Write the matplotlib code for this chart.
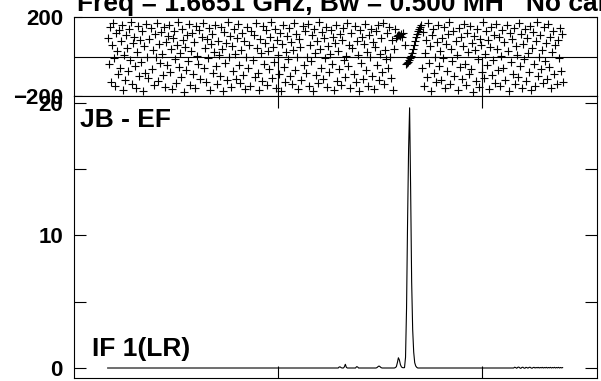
import matplotlib
matplotlib.use('Agg')
import matplotlib.pyplot as plt
from matplotlib.ticker import FixedLocator

# ---------------- data ----------------
channels = list(range(33, 480))

phase = [
    95, -40, 150, -130, 60, 170, -10, -150, 120, 30, -90, 135, -60, 80, 160, -170, 10, -120, 110, 45,
    -75, 140, -20, 175, -140, 70, 100, -50, -160, 25, 155, -100, 85, -30, 130, -175, 55, -85, 165, 0,
    -110, 90, 145, -65, 35, -145, 115, -5, 170, -125, 65, -35, 125, 15, -95, 150, -155, 75, -45, 105,
    160, -80, 40, -165, 95, 130, -15, -135, 60, 175, -55, 20, -105, 140, 85, -180, 50, -70, 110, -25,
    165, -145, 30, 120, -90, 75, -160, 155, 5, -40, 135, -115, 100, 170, -60, 45, -130, 90, -10, 145,
    -170, 65, 115, -85, 25, 160, -50, -140, 80, 10, -100, 150, 40, -175, 125, -35, 70, -120, 175, -5,
    105, -155, 55, -75, 140, 15, -115, 95, 165, -45, -135, 35, 120, -95, 80, -165, 0, 150, -60, 60,
    -150, 130, -20, 110, -105, 170, 45, -85, -170, 90, 20, -125, 155, -40, 70, 135, -145, 30, -65, 100,
    175, -110, 50, -30, 140, -160, 85, 10, -90, 120, -175, 65, 160, -55, -130, 25, 105, -15, 145, -100,
    75, -140, 35, 170, -70, 115, -5, -165, 90, 50, -120, 155, -45, 130, -85, 0, 165, -150, 60, -25,
    110, -175, 140, 20, -95, 80, -135, 175, 40, -60, 125, -115, 95, -10, 150, -155, 55, -80, 15, 135,
    -40, 100, -170, 70, 160, -125, 30, -65, 115, -145, 85, 145, -20, -105, 5, 170, -50, 60, -160, 120,
    45, -90, 155, -130, 80, 10, -175, 135, -35, 100, -115, 65, 165, -70, 25, -150, 110, -5, 140, -100,
    75, -165, 50, 130, -45, 160, -120, 15, 95, -80, 170, -140, 35, -15, 120, -60, 150, 0, -110, 85,
    -170, 40, 140,
    # coherent region around the line (channels 316-340)
    95, 105, 110, 108, 102, 115, 98, 120, 60, -40, -35, -30, -20, -10, 5, 20, 40, 60, 80, 100,
    115, 130, 140, 150, 160,
    # channels 341-479
    -60, 125, -150, 20, 85, -105, 170, -35, 55, -175, 110, 140, -85, 0, -130, 75, 160, -50, 30, -120,
    95, -10, 150, -160, 65, -75, 115, 175, -140, 40, -25, 130, -100, 80, 10, -170, 145, -55, 100, -115,
    55, 165, -40, -145, 120, 25, -90, 155, -65, 70, -180, 105, 35, -125, 140, -15, -155, 90, 60, -80,
    175, -110, 15, 130, -45, 85, -165, 50, 150, -95, -20, 110, -135, 165, 40, -70, 100, -150, 5, 135,
    -60, 75, -120, 160, 30, -175, 120, -30, 90, -90, 145, -140, 55, 10, -105, 170, -50, 115, -160, 65,
    -15, 140, -125, 95, 20, -80, 155, -170, 45, 125, -40, -150, 80, 175, -100, 0, 110, -65, 35, -135,
    150, -25, 70, -115, 165, -55, 100, -160, 25, 130, -90, 60, -140, 85, -10, 145, -75, 115, -130,
]

amp = (
    [0.0] * 227                                             # ch 33-259
    + [0.08, 0.08, 0.02, 0.0, 0.0, 0.08, 0.28, 0.05]        # ch 260-267
    + [0.0] * 9                                             # ch 268-276
    + [0.1, 0.08]                                           # ch 277-278
    + [0.0] * 18                                            # ch 279-296
    + [0.03, 0.1, 0.15, 0.1, 0.03]                          # ch 297-301
    + [0.0] * 13                                            # ch 302-314
    + [0.03, 0.1, 0.4, 0.77, 0.6, 0.25, 0.08, 0.03, 0.02, 0.03,
       0.8, 4.5, 11.0, 16.5, 19.6, 13.5, 6.5, 2.9, 1.2, 0.4, 0.15, 0.05]  # ch 315-336
    + [0.0] * 94                                            # ch 337-430
    + [0.0, 0.06, 0.03, -0.02, 0.05, 0.07, 0.01, -0.03, 0.04, 0.06,
       0.0, -0.02, 0.05, 0.03, -0.01, 0.04, 0.06, 0.01, -0.02, 0.03]      # ch 431-450
    + [0.05, 0.0, 0.04, 0.01, 0.05, 0.0, 0.04, 0.01, 0.05, 0.0,
       0.04, 0.01, 0.05, 0.0, 0.04, 0.01, 0.05, 0.0, 0.04, 0.01,
       0.05, 0.0, 0.04, 0.01, 0.05, 0.0, 0.04, 0.01, 0.03]                # ch 451-479
)

title_text = "Freq = 1.6651 GHz, Bw = 0.500 MH   No cal"
baseline_label = "JB - EF"
if_label = "IF 1(LR)"
phase_ticks = [-200, 200]
amp_ticks = [0, 10, 20]
amp_minor_ticks = [5, 15]
chan_ticks = [200, 400]

# ---------------- figure ----------------
plt.rcParams['font.family'] = ['Liberation Sans', 'DejaVu Sans']
plt.rcParams['font.weight'] = 'bold'

W, H = 601, 381
fig = plt.figure(figsize=(W / 100, H / 100), dpi=100)


def box(l, t, r, b):
    return [l / W, 1 - b / H, (r - l) / W, (b - t) / H]


ax1 = fig.add_axes(box(74, 17, 597, 96))
ax2 = fig.add_axes(box(74, 96, 597, 378))

xlim = (0, 512.7)

# phase panel
ax1.plot(channels, phase, linestyle='none', marker='+', markersize=6,
         markeredgewidth=0.8, color='black')
ax1.axhline(0, color='black', lw=0.8)
ax1.set_xlim(*xlim)
ax1.set_ylim(-200, 200)
ax1.set_yticks(phase_ticks)
ax1.set_xticks(chan_ticks)
ax1.tick_params(axis='y', direction='in', length=6, width=0.8, left=True,
                right=True, labelsize=16, pad=8)
ax1.tick_params(axis='x', direction='in', length=28, width=0.8, bottom=True,
                top=False, labelbottom=False)

# amplitude panel
ax2.plot(channels, amp, color='black', lw=0.8)
ax2.set_xlim(*xlim)
ax2.set_ylim(-0.753, 20.49)
ax2.set_yticks(amp_ticks)
ax2.yaxis.set_minor_locator(FixedLocator(amp_minor_ticks))
ax2.set_xticks(chan_ticks)
ax2.tick_params(axis='y', which='both', direction='in', length=8.6, width=0.8,
                left=True, right=True, labelsize=16, pad=8)
ax2.tick_params(axis='x', direction='in', length=8.6, width=0.8, bottom=True,
                top=True, labelbottom=False)

for ax in (ax1, ax2):
    for s in ax.spines.values():
        s.set_linewidth(0.8)

fig.text(77 / W, 1 - 11 / H, title_text, fontsize=19, fontweight='bold',
         ha='left', va='baseline')
fig.text(80 / W, 1 - 127 / H, baseline_label, fontsize=19, fontweight='bold',
         ha='left', va='baseline')
fig.text(92 / W, 1 - 356 / H, if_label, fontsize=19, fontweight='bold',
         ha='left', va='baseline')

fig.savefig('out.png', dpi=100)
